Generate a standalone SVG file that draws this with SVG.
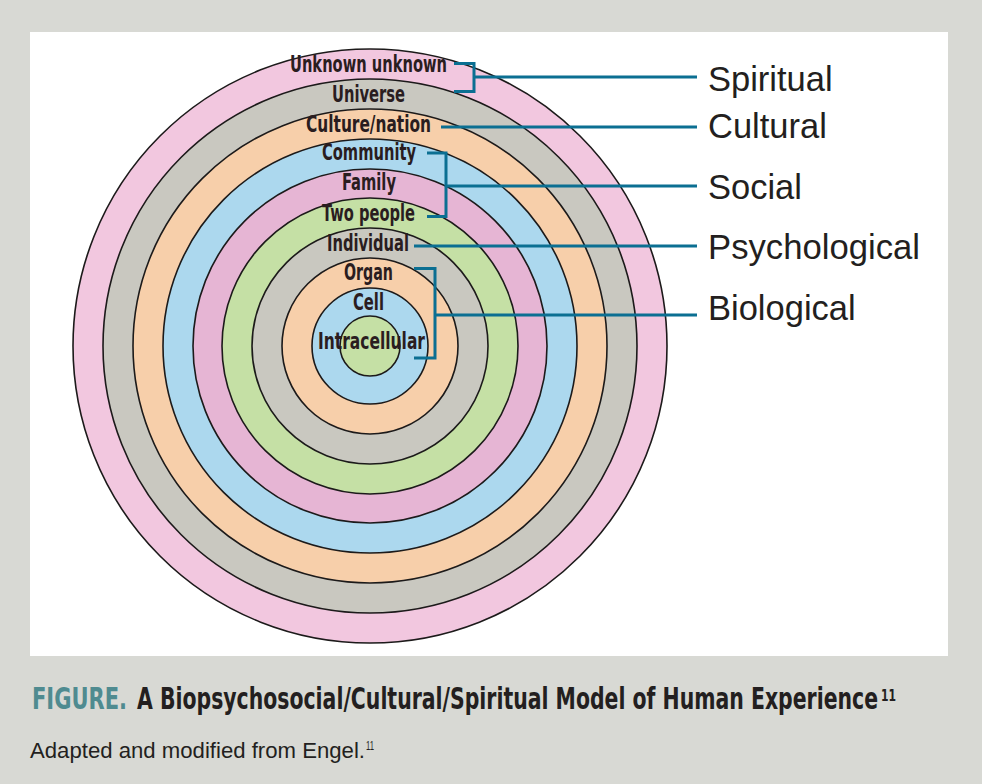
<svg xmlns="http://www.w3.org/2000/svg" width="982" height="784" viewBox="0 0 982 784">
<style>
.ring{stroke:#1c1a1a;stroke-width:1.6}
.lbl{font-family:"DejaVu Sans Condensed","DejaVu Sans","Liberation Sans",sans-serif;font-stretch:condensed;font-weight:bold;font-size:23px;fill:#2a1d1f;text-anchor:start}
.side{font-family:"Liberation Sans",Arial,sans-serif;font-size:34.5px;fill:#231f20}
.conn{fill:none;stroke:#0b6f92;stroke-width:3;stroke-linecap:butt;stroke-linejoin:miter}
.cap{font-family:"DejaVu Sans Condensed","DejaVu Sans","Liberation Sans",sans-serif;font-stretch:condensed;font-weight:bold;font-size:21.5px}
</style>
<rect x="0" y="0" width="982" height="784" fill="#d8d9d4"/>
<rect x="30" y="32" width="918" height="624" fill="#ffffff"/>

<g id="unknown-unknown">
<circle class="ring" cx="370" cy="346" r="297" fill="#f2c7df"/>
<text class="lbl" x="290" y="72" textLength="157" lengthAdjust="spacingAndGlyphs">Unknown unknown</text>
</g>
<g id="universe">
<circle class="ring" cx="370" cy="346" r="267" fill="#c9c8c0"/>
<text class="lbl" x="332" y="102" textLength="73" lengthAdjust="spacingAndGlyphs">Universe</text>
</g>
<g id="culture-nation">
<circle class="ring" cx="370" cy="346" r="237" fill="#f7cfaa"/>
<text class="lbl" x="306" y="132" textLength="125" lengthAdjust="spacingAndGlyphs">Culture/nation</text>
</g>
<g id="community">
<circle class="ring" cx="370" cy="346" r="207" fill="#acd8ee"/>
<text class="lbl" x="322" y="160" textLength="94" lengthAdjust="spacingAndGlyphs">Community</text>
</g>
<g id="family">
<circle class="ring" cx="370" cy="346" r="177" fill="#e6b5d4"/>
<text class="lbl" x="342" y="190" textLength="54" lengthAdjust="spacingAndGlyphs">Family</text>
</g>
<g id="two-people">
<circle class="ring" cx="370" cy="346" r="148" fill="#c5e0a5"/>
<text class="lbl" x="322" y="221" textLength="93" lengthAdjust="spacingAndGlyphs">Two people</text>
</g>
<g id="individual">
<circle class="ring" cx="370" cy="346" r="118" fill="#c9c8c0"/>
<text class="lbl" x="327" y="251" textLength="82" lengthAdjust="spacingAndGlyphs">Individual</text>
</g>
<g id="organ">
<circle class="ring" cx="370" cy="346" r="88" fill="#f7cfaa"/>
<text class="lbl" x="344" y="280" textLength="49" lengthAdjust="spacingAndGlyphs">Organ</text>
</g>
<g id="cell">
<circle class="ring" cx="370" cy="346" r="58" fill="#acd8ee"/>
<text class="lbl" x="353" y="310" textLength="31" lengthAdjust="spacingAndGlyphs">Cell</text>
</g>
<g id="intracellular">
<circle class="ring" cx="370" cy="346" r="30" fill="#c5e0a5"/>
<text class="lbl" x="318" y="349" textLength="107" lengthAdjust="spacingAndGlyphs">Intracellular</text>
</g>

<g id="connectors">
<path class="conn" d="M454,63.5 H474 V91.5 H454 M474,77 H697"/>
<path class="conn" d="M441,127 H697"/>
<path class="conn" d="M427,153 H446 V216.5 H427 M446,186 H697"/>
<path class="conn" d="M414,246 H697"/>
<path class="conn" d="M414,268.5 H435 V358 H414 M435,315 H697"/>
</g>

<g id="spiritual"><text class="side" x="708" y="91">Spiritual</text></g>
<g id="cultural"><text class="side" x="708" y="138">Cultural</text></g>
<g id="social"><text class="side" x="708" y="199">Social</text></g>
<g id="psychological"><text class="side" x="708" y="259" textLength="212" lengthAdjust="spacingAndGlyphs">Psychological</text></g>
<g id="biological"><text class="side" x="708" y="320">Biological</text></g>

<g id="caption">
<text class="cap" transform="translate(32,709) scale(1,1.4)" x="0" y="0" fill="#4f8b90" textLength="95" lengthAdjust="spacingAndGlyphs">FIGURE.</text>
<text class="cap" transform="translate(137,709) scale(1,1.4)" x="0" y="0" fill="#231f20" textLength="741" lengthAdjust="spacingAndGlyphs">A Biopsychosocial/Cultural/Spiritual Model of Human Experience</text>
<text class="cap" x="881" y="701" fill="#231f20" style="font-size:16px" textLength="15" lengthAdjust="spacingAndGlyphs">11</text>
<text x="30" y="758" font-family="Liberation Sans, Arial, sans-serif" font-size="22" fill="#231f20" textLength="335" lengthAdjust="spacingAndGlyphs">Adapted and modified from Engel.</text>
<text x="366" y="750" font-family="Liberation Sans, Arial, sans-serif" font-size="12" fill="#231f20" textLength="8" lengthAdjust="spacingAndGlyphs">11</text>
</g>
</svg>
